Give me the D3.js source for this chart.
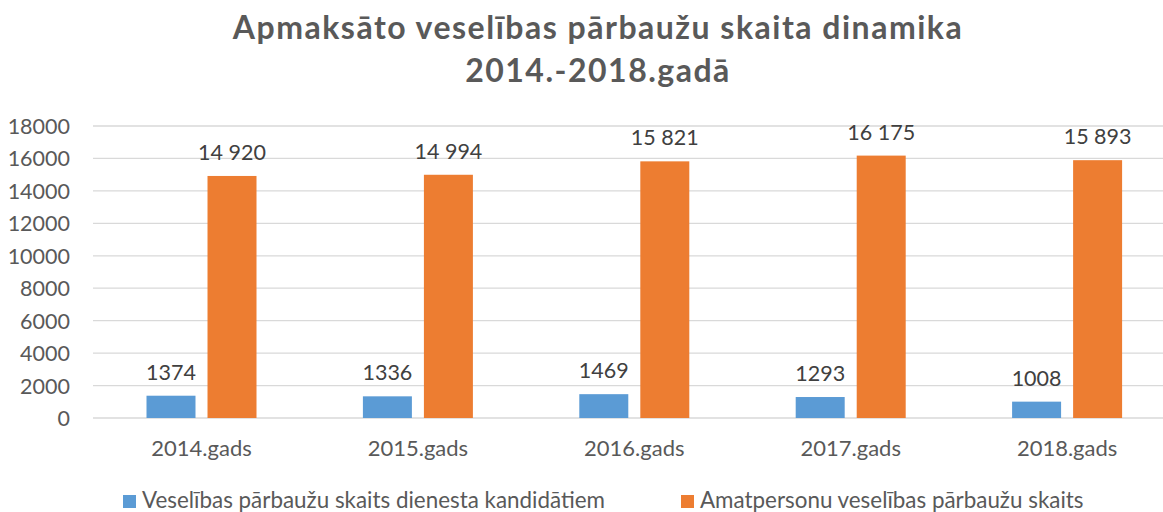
<!DOCTYPE html>
<html><head><meta charset="utf-8">
<script src="https://cdn.jsdelivr.net/npm/d3@7"></script>
<style>body{margin:0;background:#fff}svg{display:block}</style>
</head><body>
<script>
const categories = ["2014.gads","2015.gads","2016.gads","2017.gads","2018.gads"];
const seriesNames = ["Veselības pārbaužu skaits dienesta kandidātiem","Amatpersonu veselības pārbaužu skaits"];
const candidates = [1374, 1336, 1469, 1293, 1008];
const officials = [14920, 14994, 15821, 16175, 15893];
const yTicks = [0,2000,4000,6000,8000,10000,12000,14000,16000,18000];
const titleLines = ["Apmaksāto veselības pārbaužu skaita dinamika","2014.-2018.gadā"];
const colors = ["#5B9BD5","#ED7D31"];

const W = 1163, H = 512;
const font = "Lato, 'Open Sans', sans-serif";
const svg = d3.select("body").append("svg").attr("width",W).attr("height",H);

const y = d3.scaleLinear().domain([0,18000]).range([418,126]);
const x0 = d3.scaleBand().domain(categories).range([93.3,1175.3]).paddingInner(0).paddingOuter(0);
const x1 = d3.scaleBand().domain([0,1]).range([0,x0.bandwidth()]).paddingInner(0.197).paddingOuter(0.872);

// gridlines
svg.append("g").selectAll("line").data(yTicks).join("line")
  .attr("x1",93).attr("x2",W).attr("y1",d=>y(d)).attr("y2",d=>y(d))
  .attr("stroke","#d9d9d9").attr("stroke-width",1.3);

// y axis labels
const yAxis = d3.axisLeft(y).tickValues(yTicks).tickSize(0).tickPadding(0).tickFormat(d3.format("d"));
const ya = svg.append("g").attr("transform","translate(70,0)").call(yAxis);
ya.select(".domain").remove();
ya.selectAll("text").attr("font-family",font).attr("font-size",21.5).attr("fill","#595959").attr("dy","0.35em");

// x axis labels
const xAxis = d3.axisBottom(x0).tickSize(0).tickPadding(0);
const xa = svg.append("g").attr("transform","translate(0,440)").call(xAxis);
xa.select(".domain").remove();
xa.selectAll("text").attr("font-family",font).attr("font-size",22).attr("fill","#595959").attr("dy","0.71em");

const series = [candidates, officials];
const fmtPlain = d3.format("d");
const fmtSpace = d3.formatLocale({decimal:",",thousands:"\u00a0",grouping:[3],currency:["",""]}).format(",d");
const fmts = [fmtPlain, fmtSpace];

series.forEach((vals,si)=>{
  const g = svg.append("g");
  g.selectAll("rect").data(vals).join("rect")
    .attr("x",(d,i)=>x0(categories[i])+x1(si))
    .attr("width",x1.bandwidth())
    .attr("y",d=>y(d)).attr("height",d=>y(0)-y(d))
    .attr("fill",colors[si]);
  g.selectAll("text").data(vals).join("text")
    .attr("x",(d,i)=>x0(categories[i])+x1(si)+x1.bandwidth()/2)
    .attr("y",d=>y(d)-16)
    .attr("text-anchor","middle")
    .attr("font-family",font).attr("font-size",21.5).attr("fill","#404040")
    .text(d=>fmts[si](d));
});

// title
svg.append("g").selectAll("text").data(titleLines).join("text")
  .attr("x",598).attr("y",(d,i)=>39+i*43)
  .attr("text-anchor","middle")
  .attr("font-family",font).attr("font-weight","bold").attr("font-size",32)
  .attr("letter-spacing","1.5px").attr("fill","#595959")
  .text(d=>d);

// legend
const legX = [123, 681];
const leg = svg.append("g");
seriesNames.forEach((n,i)=>{
  leg.append("rect").attr("x",legX[i]).attr("y",495).attr("width",13).attr("height",13).attr("fill",colors[i]);
  leg.append("text").attr("x",legX[i]+19).attr("y",508)
    .attr("font-family",font).attr("font-size",22.4).attr("fill","#595959").text(n);
});
</script>
</body></html>
